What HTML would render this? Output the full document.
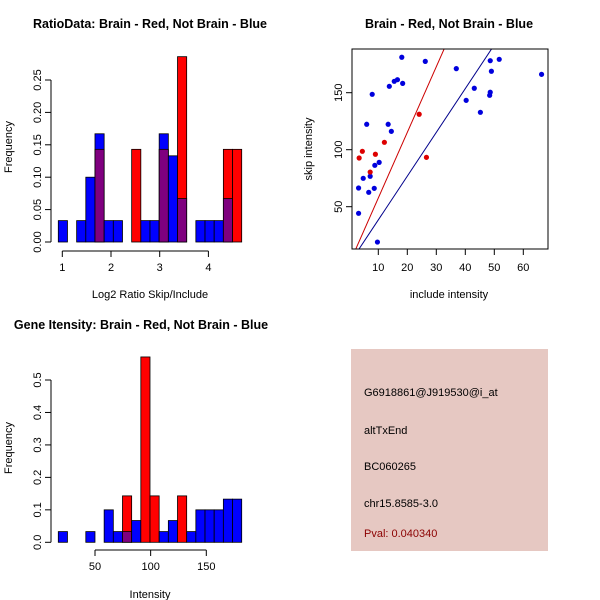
<!DOCTYPE html>
<html><head><meta charset="utf-8"><style>
body{margin:0;background:#fff}
svg{display:block;font-family:"Liberation Sans",Arial,sans-serif}
</style></head><body>
<svg id="c" width="600" height="600" viewBox="0 0 600 600"></svg>
<script>
// Ratio histogram data (20 bins)
const ratioBlue=[0.033,0,0.033,0.1,0.167,0.033,0.033,0,0,0.033,0.033,0.167,0.133,0.067,0,0.033,0.033,0.033,0.067,0];
const ratioRed=[0,0,0,0,0.143,0,0,0,0.143,0,0,0.143,0,0.286,0,0,0,0,0.143,0.143];
const ratioTicksX=[1,2,3,4];
const ratioTicksY=["0.00","0.05","0.10","0.15","0.20","0.25"];
// Intensity histogram data
const intBlue=[0.033,0,0,0.033,0,0.1,0.033,0.033,0.067,0,0,0.033,0.067,0,0.033,0.1,0.1,0.1,0.133,0.133];
const intRed=[0,0,0,0,0,0,0,0.143,0,0.571,0.143,0,0,0.143,0,0,0,0,0,0];
const intTicksX=[50,100,150];
const intTicksY=["0.0","0.1","0.2","0.3","0.4","0.5"];
// Scatter data
const blueX=[3.2,3.2,4.8,6.0,6.7,7.2,7.9,8.6,8.8,10.3,9.7,13.4,13.8,14.5,15.5,16.6,18.1,18.4,26.2,36.9,40.3,43.1,45.2,48.4,48.6,49.0,48.6,51.7,66.3];
const blueY=[66.4,44.2,74.9,122.3,62.6,76.7,148.6,66.1,86.3,88.9,19.0,122.3,155.6,116.1,160.0,161.4,181.1,158.2,177.5,171.1,143.3,153.9,132.8,147.7,150.4,168.8,178.1,179.3,166.1];
const redX=[3.4,4.5,7.2,9.0,12.1,24.1,26.6];
const redY=[92.7,98.6,80.4,96.0,106.5,131.1,93.3];
const slopeRed=5.76, slopeBlue=3.84;
const scTicksX=[10,20,30,40,50,60];
const scTicksY=[50,100,150];

const svg=document.getElementById('c');
const NS='http://www.w3.org/2000/svg';
function mk(tag,at,parent,txt){const e=document.createElementNS(NS,tag);for(const k in at)e.setAttribute(k,at[k]);if(txt!==undefined)e.textContent=txt;(parent||svg).appendChild(e);return e;}

function hist(blue,red,x0,bw,yScale,yBase,name){
  const g=mk('g',{});
  
  
  for(let i=0;i<blue.length;i++){
    const b=blue[i],r=red[i],m=Math.min(b,r),M=Math.max(b,r);
    const x=x0+i*bw;
    if(M>0){
      const el=mk('rect',{x:x,y:yScale(M),width:bw,height:yBase-yScale(M),fill:b>=r?'#0000ff':'#ff0000',stroke:'#000','stroke-width':0.8},g);
      
      
    }
    if(m>0){
      const el=mk('rect',{x:x,y:yScale(m),width:bw,height:yBase-yScale(m),fill:'#7f007f',stroke:'#000','stroke-width':0.8},g);
      
      
    }
  }
}
function yAxisLabels(labels,vals,yScale,x,g){
  mk('line',{x1:x,x2:x,y1:yScale(vals[0]),y2:yScale(vals[vals.length-1]),stroke:'#000'},g);
  labels.forEach((l,i)=>{const y=yScale(vals[i]);
    mk('line',{x1:x-6,x2:x,y1:y,y2:y,stroke:'#000'},g);
    mk('text',{x:x-10,y:y,transform:`rotate(-90 ${x-10} ${y})`,'text-anchor':'middle','font-size':11},g,l);});
}
function xAxis(vals,xScale,y,g){
  mk('line',{x1:xScale(vals[0]),x2:xScale(vals[vals.length-1]),y1:y,y2:y,stroke:'#000'},g);
  vals.forEach(v=>{const x=xScale(v);mk('line',{x1:x,x2:x,y1:y,y2:y+6,stroke:'#000'},g);
    mk('text',{x:x,y:y+20,'text-anchor':'middle','font-size':11},g,String(v));});
}

// Panel 1
{
  const yS=v=>242-v*(162/0.25), xS=v=>62.3+(v-1)*48.7;
  hist(ratioBlue,ratioRed,58.3,9.17,yS,242,'ratio-histogram-bars');
  const ga=mk('g',{});
  yAxisLabels(ratioTicksY,ratioTicksY.map(Number),yS,51,ga);
  const gx=mk('g',{});
  xAxis(ratioTicksX,xS,251,gx);
  const t=mk('text',{x:150,y:28,'text-anchor':'middle','font-size':12.5,'font-weight':'bold'},svg,'RatioData: Brain - Red, Not Brain - Blue');
  
  const xl=mk('text',{x:150,y:298,'text-anchor':'middle','font-size':11},svg,'Log2 Ratio Skip/Include');
  
  const yl=mk('text',{x:12,y:147,transform:'rotate(-90 12 147)','text-anchor':'middle','font-size':11},svg,'Frequency');
  
}
// Panel 2
{
  const xS=v=>378.3+(v-10)*2.9, yS=v=>149.7-(v-100)*1.14;
  const g=mk('g',{});
  mk('defs',{},g).innerHTML='<clipPath id="cp"><rect x="352" y="49" width="196" height="200"/></clipPath>';
  const lg=mk('g',{'clip-path':'url(#cp)'},g);
  const lr=mk('line',{x1:xS(0),y1:yS(0),x2:xS(70),y2:yS(70*slopeRed),stroke:'#cc0000','stroke-width':1},lg);
  
  const lb=mk('line',{x1:xS(0),y1:yS(0),x2:xS(70),y2:yS(70*slopeBlue),stroke:'#00008b','stroke-width':1},lg);
  
  blueX.forEach((x,i)=>{const c=mk('circle',{cx:xS(x),cy:yS(blueY[i]),r:2.6,fill:'#0000dd'},g);
    });
  redX.forEach((x,i)=>{const c=mk('circle',{cx:xS(x),cy:yS(redY[i]),r:2.6,fill:'#dd0000'},g);
    });
  mk('rect',{x:352,y:49,width:196,height:200,fill:'none',stroke:'#000'},g);
  scTicksX.forEach(v=>{const x=xS(v);mk('line',{x1:x,x2:x,y1:249,y2:255,stroke:'#000'},g);
    mk('text',{x:x,y:271,'text-anchor':'middle','font-size':11},g,String(v));});
  scTicksY.forEach(v=>{const y=yS(v);mk('line',{x1:346,x2:352,y1:y,y2:y,stroke:'#000'},g);
    mk('text',{x:342,y:y,transform:`rotate(-90 342 ${y})`,'text-anchor':'middle','font-size':11},g,String(v));});
  const t=mk('text',{x:449,y:28,'text-anchor':'middle','font-size':12.5,'font-weight':'bold'},svg,'Brain - Red, Not Brain - Blue');
  
  const xl=mk('text',{x:449,y:298,'text-anchor':'middle','font-size':11},svg,'include intensity');
  
  const yl=mk('text',{x:312,y:149,transform:'rotate(-90 312 149)','text-anchor':'middle','font-size':11},svg,'skip intensity');
  
}
// Panel 3
{
  const yS=v=>542.3-v*(162.3/0.5), xS=v=>95+(v-50)*1.113;
  hist(intBlue,intRed,58.3,9.17,yS,542.3,'intensity-histogram-bars');
  const ga=mk('g',{});
  yAxisLabels(intTicksY,intTicksY.map(Number),yS,51,ga);
  const gx=mk('g',{});
  xAxis(intTicksX,xS,550,gx);
  const t=mk('text',{x:141,y:329,'text-anchor':'middle','font-size':12.5,'font-weight':'bold'},svg,'Gene Itensity: Brain - Red, Not Brain - Blue');
  
  const xl=mk('text',{x:150,y:598,'text-anchor':'middle','font-size':11},svg,'Intensity');
  
  const yl=mk('text',{x:12,y:448,transform:'rotate(-90 12 448)','text-anchor':'middle','font-size':11},svg,'Frequency');
  
}
// Panel 4 info box
{
  const g=mk('g',{});
  mk('rect',{x:351,y:349,width:197,height:202,fill:'#e6c8c2'},g);
  const lines=[['G6918861@J919530@i_at',396,'#000'],['altTxEnd',434,'#000'],['BC060265',470,'#000'],['chr15.8585-3.0',507,'#000'],['Pval: 0.040340',537,'#8b0000']];
  lines.forEach(l=>{const t=mk('text',{x:364,y:l[1],'font-size':11,fill:l[2]},g,l[0]);
    });
}
</script>
</body></html>
